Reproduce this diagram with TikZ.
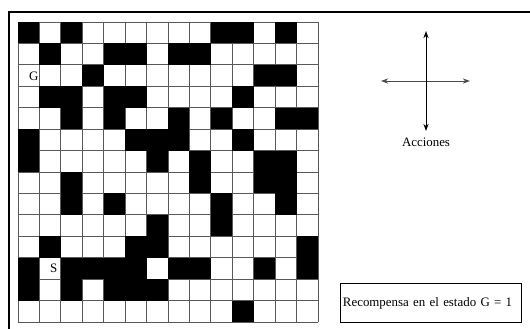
\documentclass[tikz,border=0pt]{standalone}
\usepackage{fontspec}
\setmainfont{Liberation Serif}
\usepackage{tikz}
\usetikzlibrary{arrows.meta, positioning, calc}

\begin{document}
\begin{tikzpicture}[x=1pt, y=-1pt, font=\fontsize{12.9}{15}\selectfont, >={Stealth[length=7pt, width=5pt, inset=2pt]}]
\useasboundingbox (0,0) rectangle (530,329);
% marco
\draw [line width=1.6pt] (9,330) -- (9,12) -- (531,12);
% rejilla
\foreach \i in {0,...,14} {
  \draw [gray!70!black, line width=0.9pt] (18+\i*300/14,22) -- (18+\i*300/14,322);
  \draw [gray!70!black, line width=0.9pt] (18,22+\i*300/14) -- (318,22+\i*300/14);
}
% celdas ocupadas (fila/columnas)
\foreach \r/\cols in {0/{0,2,9,10,12}, 1/{1,4,5,7,8}, 2/{3,11,12}, 3/{1,2,4,5,10},
    4/{2,4,7,9,12,13}, 5/{0,5,6,7,10}, 6/{0,6,8,11,12}, 7/{2,8,11,12}, 8/{2,4,9,12},
    9/{6,9}, 10/{1,5,6,13}, 11/{0,2,3,4,5,7,8,11,13}, 12/{0,2,4,5,6}, 13/{10}}
  \foreach \c in \cols
    \fill (18+\c*300/14,22+\r*300/14) rectangle ++(300/14,300/14);
\node (meta) at (33.8,76.3) {G};
\node (inicio) at (53.7,268.4) {S};

% acciones
\coordinate (centro) at (426,81);
\coordinate (arriba) at (426,31);
\coordinate (abajo) at (426,131);
\coordinate (izq) at (381,81);
\coordinate (der) at (470,81);
\draw [<->, gray!60!black, line width=1pt] (izq) -- (der);
\draw [<->, line width=1pt] (abajo) -- (arriba);
\node (acciones) [below=3pt of abajo] {Acciones};

\node (recompensa) [draw, line width=0.9pt, minimum width=181.7pt, minimum height=38.3pt, inner xsep=3pt, text width=175.7pt, align=left] at (430.8,303) {Recompensa en el estado G = 1};
\end{tikzpicture}
\end{document}
